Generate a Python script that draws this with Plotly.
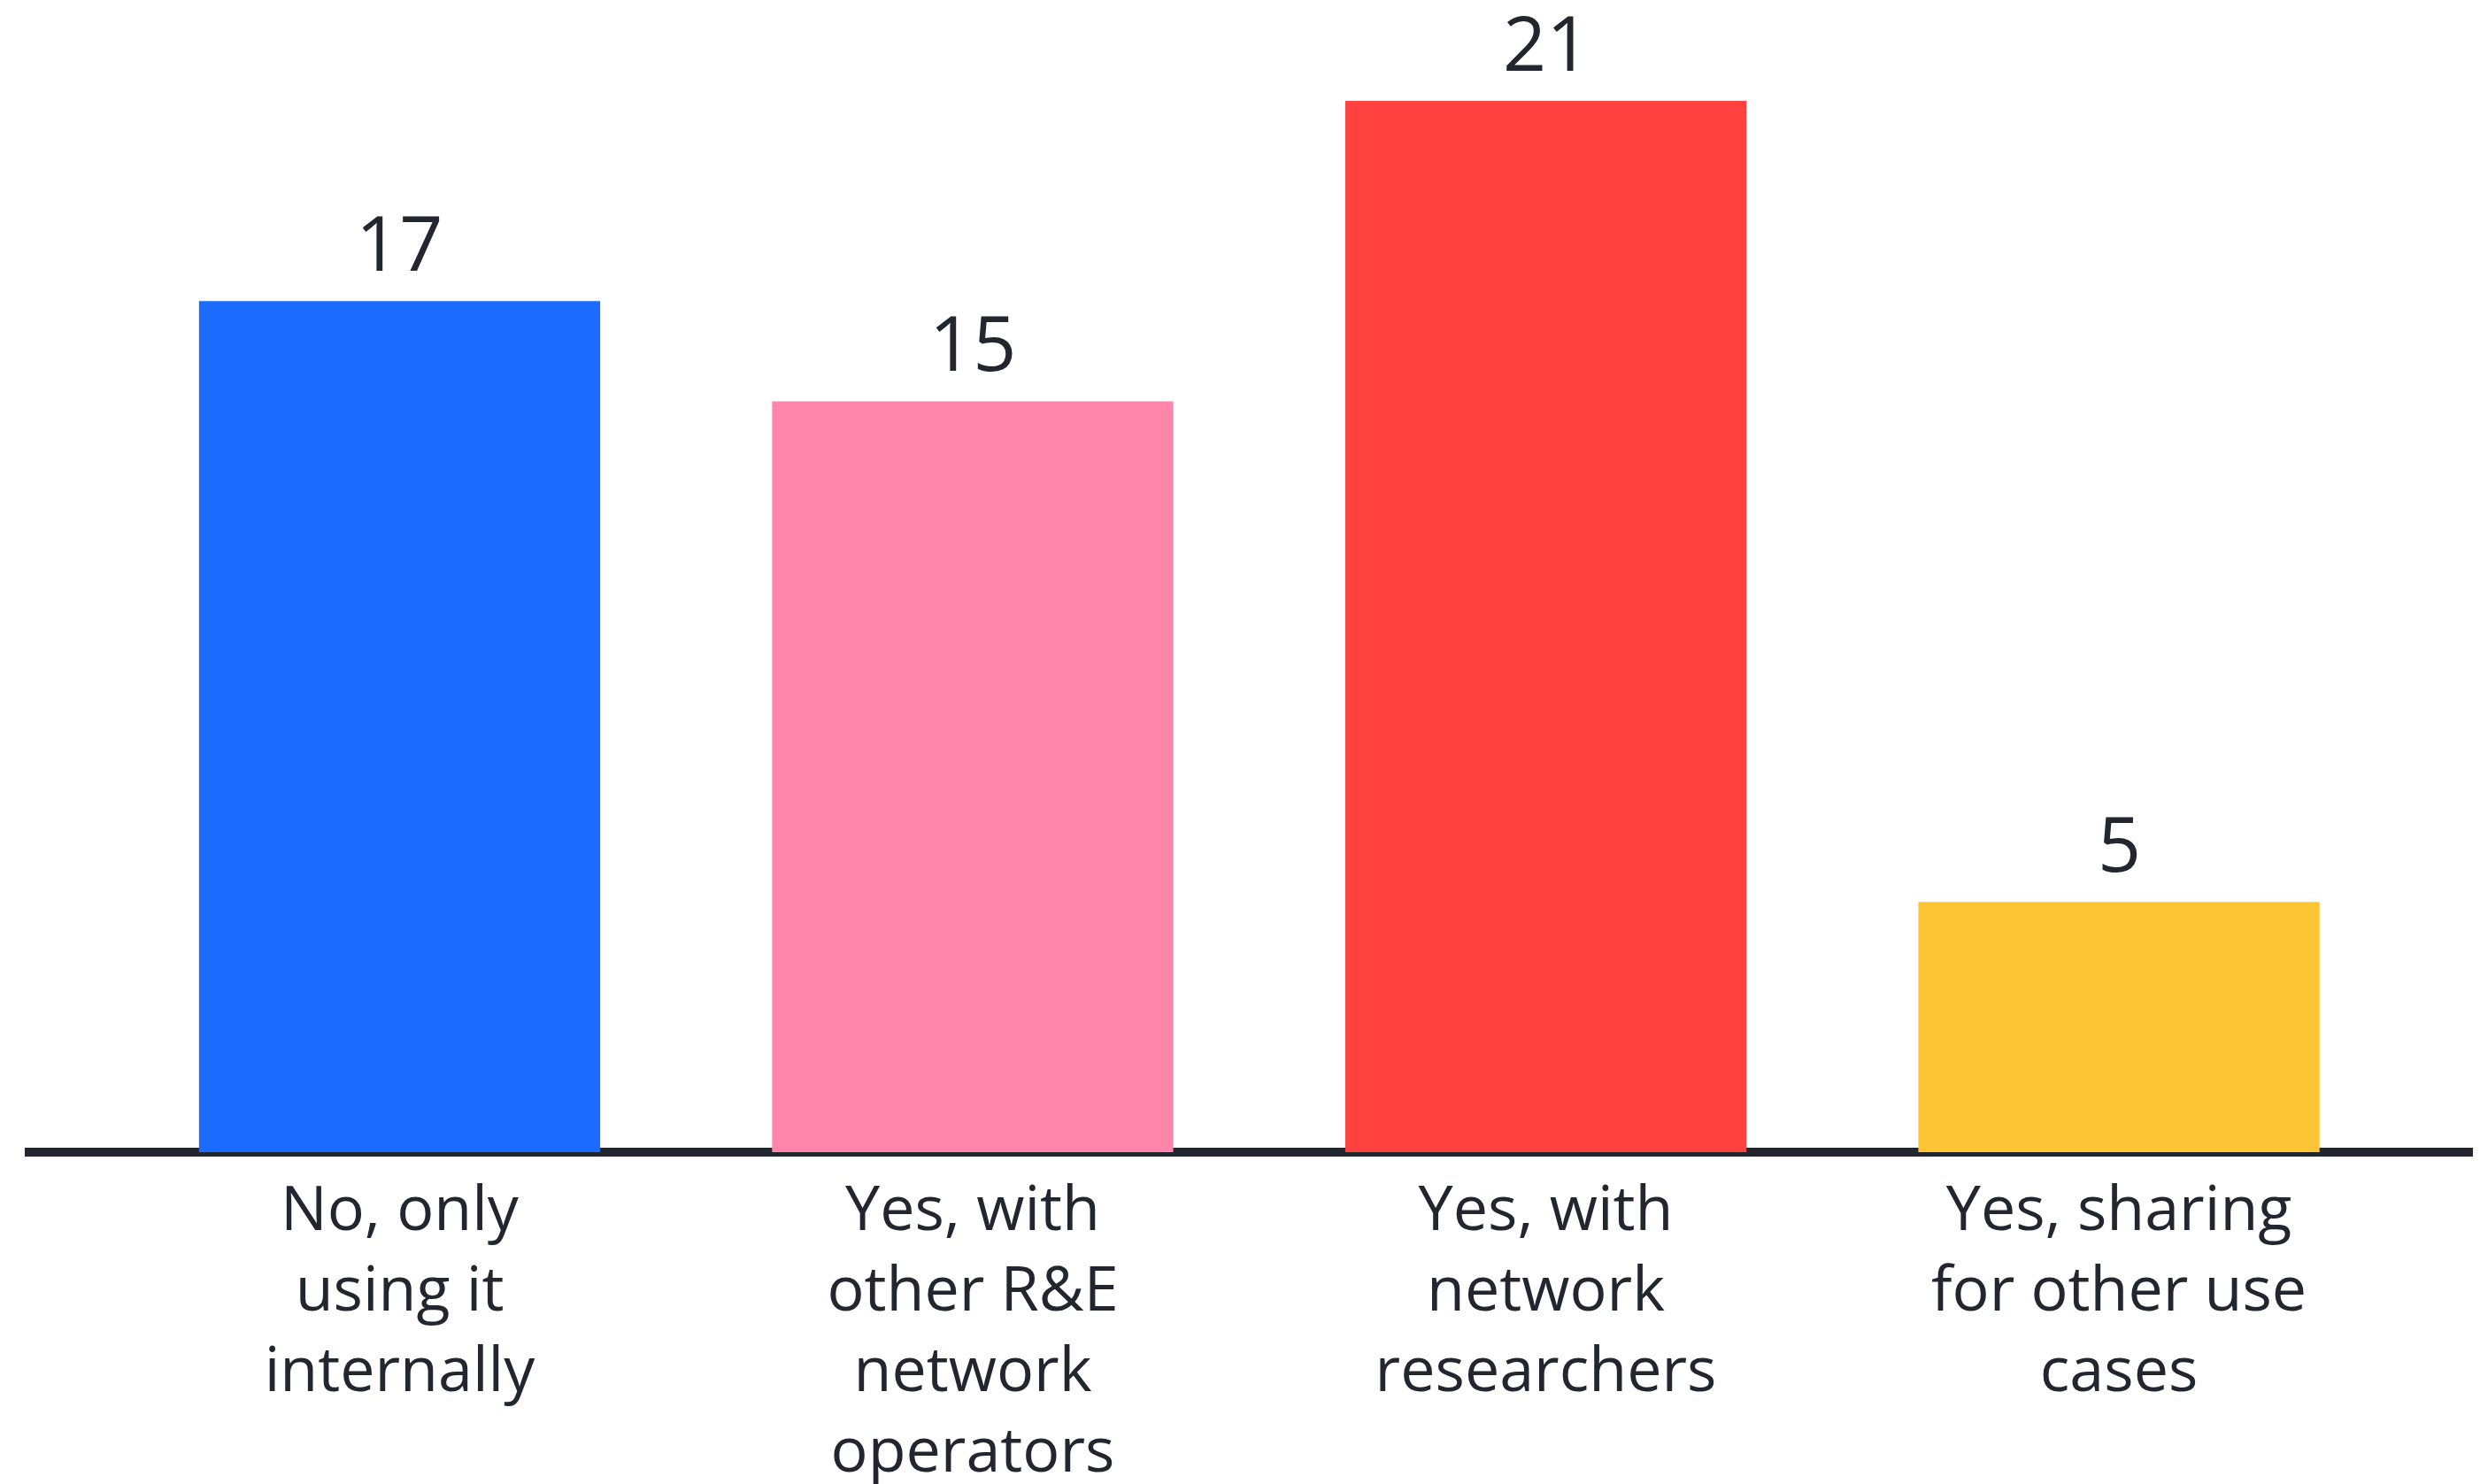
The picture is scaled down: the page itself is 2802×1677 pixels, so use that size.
import plotly.graph_objects as go

categories = [
    "No, only<br>using it<br>internally",
    "Yes, with<br>other R&E<br>network<br>operators",
    "Yes, with<br>network<br>researchers",
    "Yes, sharing<br>for other use<br>cases",
]
values = [17, 15, 21, 5]
colors = ["#1c6bff", "#ff85ab", "#ff4240", "#fdc536"]

FONT = "Open Sans"
TEXT = "#22262f"

# page body has an 8px default margin, so the figure is sized to fill the rest
W, H = 2794, 1669
fig = go.Figure()
fig.add_trace(go.Bar(
    x=list(range(len(values))),
    y=values,
    marker=dict(color=colors, line=dict(width=0)),
    width=0.70,
    hoverinfo="skip",
))

for i, v in enumerate(values):
    fig.add_annotation(
        x=i, y=v, xref="x", yref="y",
        text=str(v), showarrow=False,
        xanchor="center", yanchor="bottom", yshift=7,
        font=dict(family=FONT, size=86, color=TEXT),
    )

fig.update_layout(
    width=W, height=H,
    margin=dict(l=20, r=0, t=42, b=375, autoexpand=False),
    paper_bgcolor="white", plot_bgcolor="white",
    showlegend=False,
    font=dict(family=FONT, color=TEXT),
    xaxis=dict(
        range=[-0.654, 3.630],
        tickmode="array",
        tickvals=list(range(len(categories))),
        ticktext=categories,
        tickfont=dict(family=FONT, size=70, color=TEXT),
        showline=False, showgrid=False, zeroline=False,
        ticks="outside", ticklen=3, tickcolor="rgba(0,0,0,0)",
        automargin=False,
    ),
    yaxis=dict(
        range=[0, 22.13],
        showticklabels=False, showgrid=False, zeroline=True,
        zerolinecolor=TEXT, zerolinewidth=10,
        showline=False, automargin=False,
    ),
)

fig.write_html("out.html")
